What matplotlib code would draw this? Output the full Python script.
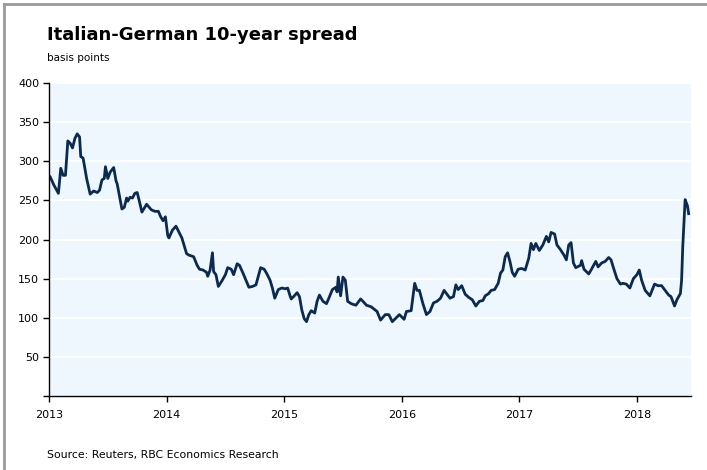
import matplotlib.pyplot as plt
from matplotlib.lines import Line2D

# Decimal-year positions and spread values (basis points)
t = [2013.01, 2013.04, 2013.08, 2013.10, 2013.12, 2013.14, 2013.16, 2013.18, 2013.20, 2013.22,
     2013.24, 2013.26, 2013.27, 2013.29, 2013.32, 2013.35, 2013.38, 2013.41, 2013.43, 2013.45,
     2013.47, 2013.48, 2013.50, 2013.52, 2013.55, 2013.57, 2013.58, 2013.62, 2013.64, 2013.66,
     2013.67, 2013.69, 2013.71, 2013.73, 2013.75, 2013.77, 2013.79, 2013.83, 2013.87, 2013.90,
     2013.93, 2013.95, 2013.97, 2013.99, 2014.01, 2014.02, 2014.05, 2014.08, 2014.11, 2014.13,
     2014.15, 2014.17, 2014.19, 2014.23, 2014.26, 2014.28, 2014.31, 2014.34, 2014.35, 2014.37,
     2014.39, 2014.40, 2014.42, 2014.44, 2014.47, 2014.50, 2014.52, 2014.55, 2014.57, 2014.60,
     2014.62, 2014.65, 2014.68, 2014.70, 2014.73, 2014.76, 2014.78, 2014.80, 2014.83, 2014.85,
     2014.88, 2014.90, 2014.92, 2014.95, 2014.98, 2015.01, 2015.03, 2015.05, 2015.06, 2015.08,
     2015.11, 2015.13, 2015.15, 2015.17, 2015.19, 2015.21, 2015.23, 2015.26, 2015.28, 2015.30,
     2015.33, 2015.36, 2015.38, 2015.41, 2015.44, 2015.45, 2015.46, 2015.48, 2015.50, 2015.52,
     2015.54, 2015.57, 2015.61, 2015.65, 2015.67, 2015.70, 2015.74, 2015.79, 2015.82, 2015.86,
     2015.89, 2015.92, 2015.96, 2015.98, 2016.02, 2016.04, 2016.08, 2016.09, 2016.11, 2016.13,
     2016.15, 2016.18, 2016.21, 2016.24, 2016.27, 2016.30, 2016.33, 2016.36, 2016.38, 2016.41,
     2016.44, 2016.46, 2016.48, 2016.51, 2016.54, 2016.57, 2016.60, 2016.63, 2016.66, 2016.69,
     2016.71, 2016.74, 2016.76, 2016.79, 2016.82, 2016.84, 2016.86, 2016.88, 2016.90, 2016.92,
     2016.94, 2016.96, 2016.99, 2017.02, 2017.05, 2017.08, 2017.10, 2017.12, 2017.14, 2017.17,
     2017.20, 2017.23, 2017.25, 2017.27, 2017.30, 2017.32, 2017.35, 2017.38, 2017.40, 2017.42,
     2017.44, 2017.46, 2017.48, 2017.52, 2017.53, 2017.55, 2017.59, 2017.61, 2017.65, 2017.67,
     2017.70, 2017.73, 2017.76, 2017.78, 2017.80, 2017.83, 2017.86, 2017.88, 2017.91, 2017.94,
     2017.97, 2018.00, 2018.02, 2018.04, 2018.07, 2018.11, 2018.15, 2018.18, 2018.21, 2018.24,
     2018.27, 2018.29, 2018.31, 2018.32, 2018.34, 2018.37, 2018.38, 2018.39, 2018.41, 2018.43,
     2018.44]
spread = [280, 270, 259, 291, 282, 282, 326, 323, 317, 329,
          335, 331, 306, 304, 278, 258, 262, 260, 263, 276,
          278, 293, 278, 286, 292, 275, 271, 239, 241, 253,
          249, 254, 253, 259, 260, 248, 235, 245, 238, 236,
          236, 229, 224, 229, 205, 202, 212, 217, 208, 202,
          192, 182, 180, 178, 167, 162, 161, 158, 153, 161,
          183, 159, 155, 140, 147, 155, 164, 162, 155, 169,
          167, 157, 146, 139, 140, 142, 153, 164, 162, 157,
          148, 138, 125, 136, 138, 137, 138, 128, 124, 127,
          132, 127, 110, 99, 95, 104, 109, 106, 121, 129,
          121, 118, 125, 136, 139, 133, 152, 128, 152, 148,
          121, 118, 116, 124, 121, 116, 114, 108, 97, 104,
          104, 95, 101, 104, 98, 108, 109, 121, 144, 135,
          135, 118, 104, 108, 119, 121, 125, 135, 131, 125,
          127, 142, 136, 141, 130, 126, 123, 115, 121, 122,
          128, 131, 135, 136, 144, 157, 161, 178, 183, 172,
          158, 153, 162, 163, 161, 176, 195, 187, 195, 186,
          193, 204, 197, 209, 207, 193, 187, 180, 174, 193,
          196, 170, 164, 167, 173, 162, 156, 161, 172, 165,
          170, 172, 177, 174, 164, 150, 143, 144, 143, 138,
          150, 155, 161, 148, 135, 128, 143, 141, 141, 135,
          129, 127, 119, 115, 123, 131, 148, 191, 251, 243,
          233]
years = [2013, 2014, 2015, 2016, 2017, 2018]
y_ticks = [0, 50, 100, 150, 200, 250, 300, 350, 400]
y_labels = ['', '50', '100', '150', '200', '250', '300', '350', '400']

fig = plt.figure(figsize=(7.07, 4.70), dpi=100)
ax = fig.add_axes([49 / 707, 1 - 396 / 470, 642 / 707, 313 / 470])

ax.set_facecolor('#EEF6FE')
ax.plot(t, spread, color='#0B2A4F', lw=2.0, solid_joinstyle='round')

ax.set_xlim(2013, 2018.46)
ax.set_ylim(0, 400)
ax.set_xticks(years)
ax.set_xticklabels([str(y) for y in years])
ax.set_yticks(y_ticks)
ax.set_yticklabels(y_labels)
ax.grid(axis='y', color='white', lw=1.3)
ax.set_axisbelow(True)
for s in ['top', 'right']:
    ax.spines[s].set_visible(False)
for s in ['left', 'bottom']:
    ax.spines[s].set_linewidth(1.0)
ax.tick_params(axis='both', direction='out', length=4, width=1, labelsize=8, colors='black')
ax.tick_params(axis='x', pad=6)
ax.tick_params(axis='y', pad=3)

fig.text(47 / 707, 1 - 35 / 470, 'Italian-German 10-year spread', fontsize=13,
         fontweight='bold', ha='left', va='center')
fig.text(47 / 707, 1 - 58 / 470, 'basis points', fontsize=7.5, ha='left', va='center')
fig.text(47 / 707, 1 - 455 / 470, 'Source: Reuters, RBC Economics Research', fontsize=7.8,
         ha='left', va='center')

# grey frame on the left and top edges
fig.add_artist(Line2D([3.5 / 707, 3.5 / 707], [0, 1 - 4 / 470], color='#9A9A9A', lw=2))
fig.add_artist(Line2D([3.5 / 707, 1], [1 - 4 / 470, 1 - 4 / 470], color='#9A9A9A', lw=2))

fig.savefig('out.png', dpi=100)
